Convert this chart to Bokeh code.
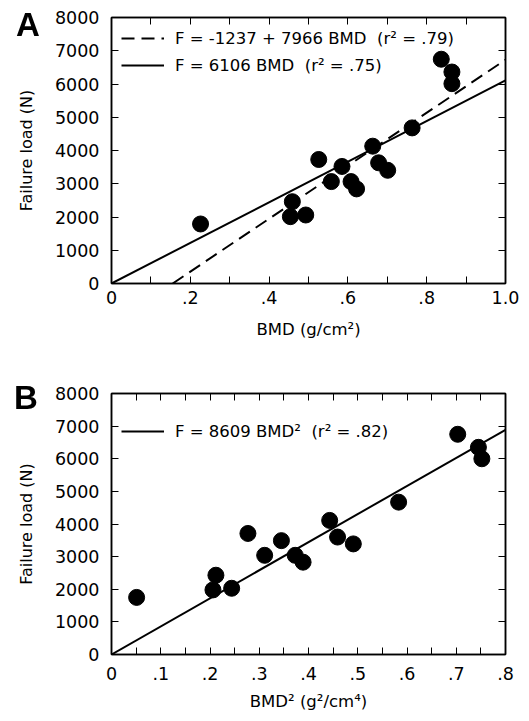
from bokeh.plotting import figure
from bokeh.models import Range1d, FixedTicker, LinearAxis, Legend, LegendItem, Div
from bokeh.layouts import column
from bokeh.embed import file_html
from bokeh.resources import INLINE

# ---- data ----
bmd = [0.226, 0.454, 0.459, 0.493, 0.526, 0.558, 0.585, 0.608, 0.622,
       0.663, 0.678, 0.701, 0.763, 0.837, 0.864, 0.864]
load_a = [1790, 2010, 2460, 2060, 3730, 3065, 3520, 3065, 2845,
          4130, 3630, 3405, 4680, 6745, 6360, 6010]
bmd2 = [0.051, 0.206, 0.212, 0.244, 0.277, 0.311, 0.345, 0.373, 0.389,
        0.443, 0.459, 0.491, 0.583, 0.703, 0.745, 0.752]
load_b = [1750, 1980, 2430, 2030, 3710, 3040, 3490, 3040, 2830,
          4110, 3600, 3390, 4670, 6750, 6350, 6000]

# regression coefficients
lin_intercept, lin_slope = -1237, 7966
prop_slope_a = 6106
prop_slope_b = 8609
legend_a = ["F = -1237 + 7966 BMD  (r\u00b2 = .79)", "F = 6106 BMD  (r\u00b2 = .75)"]
legend_b = ["F = 8609 BMD\u00b2  (r\u00b2 = .82)"]
panel_labels = ["A", "B"]

y_ticks = [0, 1000, 2000, 3000, 4000, 5000, 6000, 7000, 8000]
xa_ticks = [0, 0.2, 0.4, 0.6, 0.8, 1.0]
xa_labels = ["0", ".2", ".4", ".6", ".8", "1.0"]
xa_minor = [0.1, 0.3, 0.5, 0.7, 0.9]
xb_ticks = [0, 0.1, 0.2, 0.3, 0.4, 0.5, 0.6, 0.7, 0.8]
xb_labels = ["0", ".1", ".2", ".3", ".4", ".5", ".6", ".7", ".8"]
xb_minor = [0.05, 0.15, 0.25, 0.35, 0.45, 0.55, 0.65, 0.75]

FONT = "DejaVu Sans"
FS_TICK = "17.5px"
FS_XTITLE = "16.5px"
FS_YTITLE = "16px"
FS_LEG = "16.5px"


def style_axis(ax, ticks, minor, labels, show_labels):
    ax.ticker = FixedTicker(ticks=ticks, minor_ticks=minor)
    ax.major_tick_in = 7
    ax.major_tick_out = 0
    ax.minor_tick_in = 7
    ax.minor_tick_out = 0
    ax.major_tick_line_color = "black"
    ax.minor_tick_line_color = "black"
    ax.axis_line_color = "black"
    ax.axis_line_width = 1.5
    if show_labels:
        if labels is not None:
            ax.major_label_overrides = {t: l for t, l in zip(ticks, labels)}
        ax.major_label_text_font = FONT
        ax.major_label_text_font_size = FS_TICK
        ax.major_label_text_color = "black"
        ax.axis_label_text_font = FONT
        ax.axis_label_text_font_style = "normal"
        ax.axis_label_text_color = "black"
    else:
        ax.major_label_text_color = None
        ax.major_label_text_font_size = "1px"
        ax.major_label_standoff = 0
        ax.axis_label = None


def make_fig(height, top, bottom, xmax, xt, xl, xm, xtitle, lab_standoff, title_standoff):
    p = figure(width=521, height=height, x_range=Range1d(0, xmax), y_range=Range1d(0, 8000),
               output_backend="svg", toolbar_location=None,
               min_border_left=111, min_border_right=16, min_border_top=top, min_border_bottom=bottom)
    p.grid.visible = False
    p.outline_line_color = "black"
    p.outline_line_width = 1.5
    p.background_fill_color = "white"
    p.border_fill_color = "white"
    style_axis(p.xaxis[0], xt, xm, xl, True)
    style_axis(p.yaxis[0], y_ticks, [], None, True)
    p.xaxis[0].axis_label = xtitle
    p.xaxis[0].axis_label_text_font_size = FS_XTITLE
    p.xaxis[0].major_label_standoff = lab_standoff
    p.xaxis[0].axis_label_standoff = title_standoff
    p.yaxis[0].axis_label = "Failure load (N)"
    p.yaxis[0].axis_label_text_font_size = FS_YTITLE
    p.yaxis[0].major_label_standoff = 12
    p.yaxis[0].axis_label_standoff = 16
    top_ax = LinearAxis()
    style_axis(top_ax, xt, xm, None, False)
    p.add_layout(top_ax, "above")
    right_ax = LinearAxis()
    style_axis(right_ax, y_ticks, [], None, False)
    p.add_layout(right_ax, "right")
    return p


# ---- Panel A ----
pa = make_fig(345, 17, 62, 1.0, xa_ticks, xa_labels, xa_minor, "BMD (g/cm\u00b2)", 7, 13)
x_start = -lin_intercept / lin_slope
r_dash = pa.line([x_start, 1.0], [lin_intercept + lin_slope * x_start, lin_intercept + lin_slope * 1.0],
                 line_color="black", line_width=2, line_dash="13 7")
r_solid = pa.line([0, 1.0], [0, prop_slope_a * 1.0], line_color="black", line_width=2)
pa.scatter(bmd, load_a, size=16, fill_color="black", line_color="black")
leg_a = Legend(items=[LegendItem(label=legend_a[0], renderers=[r_dash]),
                      LegendItem(label=legend_a[1], renderers=[r_solid])],
               location="top_left", margin=10, padding=7, glyph_width=43, glyph_height=22,
               spacing=5, label_standoff=11, border_line_color=None, background_fill_alpha=0,
               label_text_font=FONT, label_text_font_size=FS_LEG, label_text_color="black")
pa.add_layout(leg_a)

# ---- Panel B ----
pb = make_fig(368, 48, 58, 0.8, xb_ticks, xb_labels, xb_minor, "BMD\u00b2 (g\u00b2/cm\u2074)", 12, 9)
r_b = pb.line([0, 0.8], [0, prop_slope_b * 0.8 ** 2 / 0.8], line_color="black", line_width=2)
pb.scatter(bmd2, load_b, size=16, fill_color="black", line_color="black")
leg_b = Legend(items=[LegendItem(label=legend_b[0], renderers=[r_b])],
               location="top_left", margin=10, padding=7, glyph_width=43, glyph_height=56,
               spacing=7, label_standoff=11, border_line_color=None, background_fill_alpha=0,
               label_text_font=FONT, label_text_font_size=FS_LEG, label_text_color="black")
pb.add_layout(leg_b)

# ---- panel letters (fixed-position HTML text over the figures) ----
letter_style = ("position:fixed; left:%dpx; top:%dpx; z-index:1000; margin:0; padding:0; "
                "font-family:'Liberation Sans'; font-weight:bold; font-size:33px; "
                "line-height:33px; color:black;")
letters_html = ('<div style="%s">%s</div>' % (letter_style % (16, 8), panel_labels[0]) +
                '<div style="%s">%s</div>' % (letter_style % (14, 381), panel_labels[1]))
letters = Div(text=letters_html, width=1, height=1, margin=0)

layout = column(pa, pb, letters, spacing=0)
open("out.html", "w").write(file_html(layout, INLINE))
